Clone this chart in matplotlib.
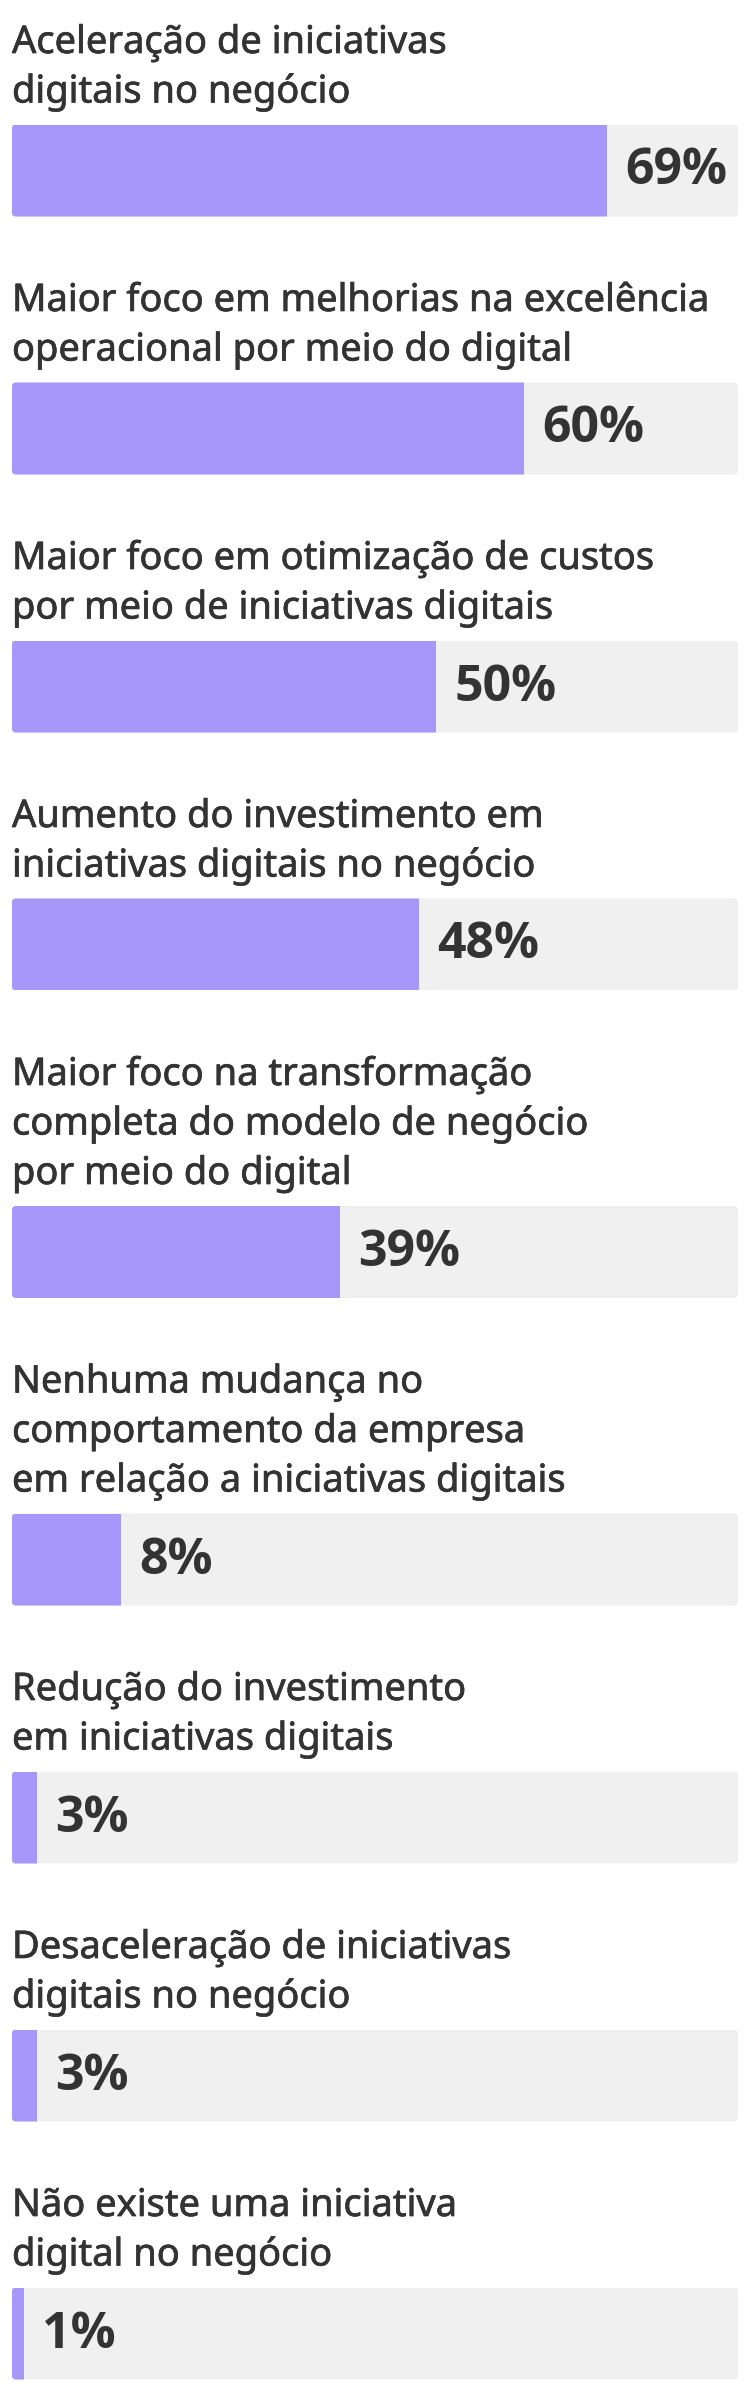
import matplotlib
matplotlib.use("Agg")
import matplotlib.pyplot as plt
import matplotlib.patheffects as pe
from matplotlib.patches import FancyBboxPatch

# ---- data -------------------------------------------------------------
categories = [
    "Aceleração de iniciativas\ndigitais no negócio",
    "Maior foco em melhorias na excelência\noperacional por meio do digital",
    "Maior foco em otimização de custos\npor meio de iniciativas digitais",
    "Aumento do investimento em\niniciativas digitais no negócio",
    "Maior foco na transformação\ncompleta do modelo de negócio\npor meio do digital",
    "Nenhuma mudança no\ncomportamento da empresa\nem relação a iniciativas digitais",
    "Redução do investimento\nem iniciativas digitais",
    "Desaceleração de iniciativas\ndigitais no negócio",
    "Não existe uma iniciativa\ndigital no negócio",
]
# bar lengths as drawn in the picture
bar_values = [69.2, 59.5, 49.3, 47.3, 38.1, 12.7, 2.9, 2.9, 1.4]
# value labels as printed
pct_labels = ["69%", "60%", "50%", "48%", "39%", "8%", "3%", "3%", "1%"]
axis_max = 84.4

# ---- style / layout ---------------------------------------------------
W, H = 751, 2406
X_LEFT, X_RIGHT = 12, 738
BAR_H = 92
LH = 49.5
TEXT_TO_BAR = 22
BAR_TO_TEXT = 94.5
FIRST_BASELINE = 53
BAR_COLOR = "#a797fa"
TRACK_COLOR = "#f0f0f0"
TEXT_COLOR = "#333333"
LABEL_FONT = ["Noto Sans", "DejaVu Sans"]
VALUE_FONT = ["Open Sans", "DejaVu Sans"]

fig = plt.figure(figsize=(W / 100, H / 100), dpi=100)
fig.patch.set_facecolor("white")

heavier = [pe.withStroke(linewidth=0.5, foreground=TEXT_COLOR)]

y = FIRST_BASELINE
for cat, val, lab in zip(categories, bar_values, pct_labels):
    lines = cat.split("\n")
    for j, line in enumerate(lines):
        fig.text(X_LEFT / W, 1 - (y + j * LH) / H, line, fontsize=27.4,
                 family=LABEL_FONT, color=TEXT_COLOR, ha="left", va="baseline",
                 path_effects=heavier)
    top = y + (len(lines) - 1) * LH + TEXT_TO_BAR
    ax = fig.add_axes([X_LEFT / W, 1 - (top + BAR_H) / H,
                       (X_RIGHT - X_LEFT) / W, BAR_H / H])
    ax.set_xlim(0, axis_max)
    ax.set_ylim(0, 1)
    ax.axis("off")
    px_x = axis_max / (X_RIGHT - X_LEFT)
    px_y = 1 / BAR_H
    r = 4
    track = FancyBboxPatch((0, 0), axis_max, 1,
                           boxstyle=f"round,pad=0,rounding_size={r * px_x}",
                           mutation_aspect=px_y / px_x,
                           fc=TRACK_COLOR, ec="none", zorder=1)
    ax.add_patch(track)
    bars = ax.barh(0.5, val, height=1, left=0, color=BAR_COLOR, zorder=2)
    bars[0].set_clip_path(track)
    ax.annotate(lab, xy=(val, 1 - 60 / BAR_H), xytext=(13, 0),
                textcoords="offset points", ha="left", va="baseline",
                fontsize=36, fontweight="bold", family=VALUE_FONT,
                color=TEXT_COLOR, annotation_clip=False, zorder=3)
    y = top + BAR_H + BAR_TO_TEXT

fig.savefig("out.png", dpi=100, facecolor="white")
